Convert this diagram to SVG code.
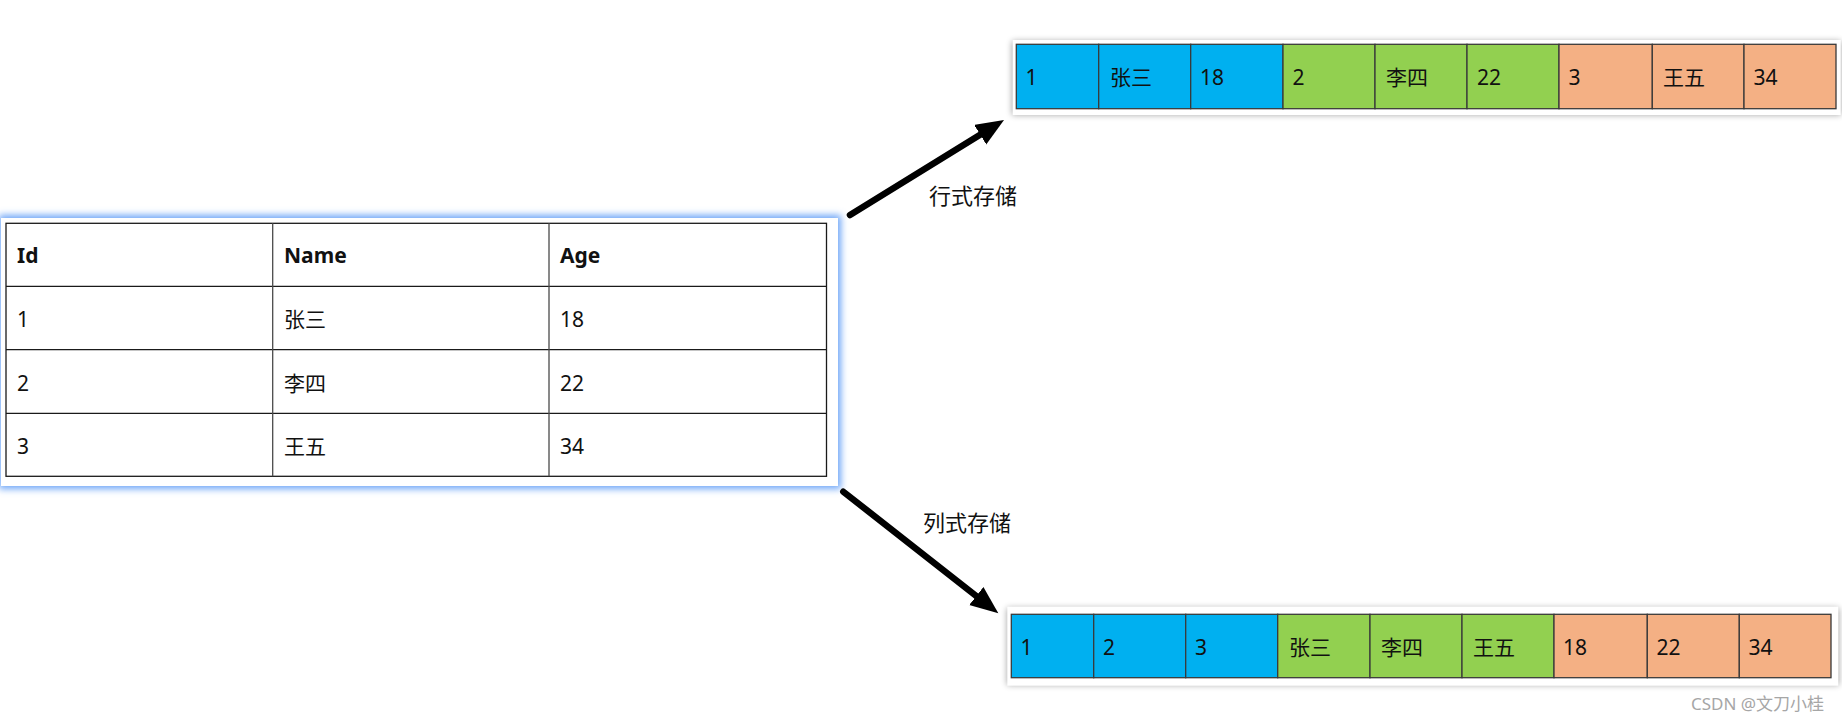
<svg xmlns="http://www.w3.org/2000/svg" width="1842" height="722" viewBox="0 0 1842 722">
<style>
text{font-family:"Noto Sans","Noto Sans CJK SC",sans-serif;font-size:21px;fill:#111}
.h{font-weight:bold}
.row{stroke:#1a1a1a;stroke-width:1.3}
.col{stroke:#4a4a4a;stroke-width:1.3}
.cell{stroke:#3a3a3a;stroke-width:1.3}
.b{fill:#00B0F0}.g{fill:#92D050}.o{fill:#F4B084}
.lbl{font-size:22px;fill:#111}
.wm{font-size:17px;fill:#a6a6a6}
.arrow{stroke:#000;stroke-width:6.5;stroke-linecap:round;fill:none}
</style>
<defs>
<filter id="glow" x="-5%" y="-10%" width="110%" height="120%">
<feGaussianBlur stdDeviation="3.5"/>
</filter>
<filter id="shadow" x="-5%" y="-30%" width="110%" height="160%">
<feGaussianBlur stdDeviation="3"/>
</filter>
<marker id="head" markerUnits="userSpaceOnUse" markerWidth="30" markerHeight="24" refX="8" refY="11.5" orient="auto">
<path d="M0,0 L28,11.5 L0,23 Z" fill="#000"/>
</marker>
</defs>
<rect width="1842" height="722" fill="#fff"/>

<g id="table">
<rect x="-1" y="215" width="842" height="274" fill="#6ea6f7" filter="url(#glow)"/>
<rect x="1" y="218" width="837" height="268" fill="#fff"/>
<rect x="6" y="223.3" width="820.5" height="253" fill="#fff" class="row"/>
<line class="row" x1="6" y1="286.3" x2="826.5" y2="286.3"/>
<line class="row" x1="6" y1="349.7" x2="826.5" y2="349.7"/>
<line class="row" x1="6" y1="413.3" x2="826.5" y2="413.3"/>
<line class="col" x1="272.7" y1="223.3" x2="272.7" y2="476.3"/>
<line class="col" x1="549" y1="223.3" x2="549" y2="476.3"/>
<text class="h" x="17" y="263">Id</text>
<text class="h" x="284" y="263">Name</text>
<text class="h" x="560" y="263">Age</text>
<text x="17" y="327">1</text>
<text x="284" y="327">张三</text>
<text x="560" y="327">18</text>
<text x="17" y="390.5">2</text>
<text x="284" y="390.5">李四</text>
<text x="560" y="390.5">22</text>
<text x="17" y="454">3</text>
<text x="284" y="454">王五</text>
<text x="560" y="454">34</text>
</g>

<g id="row-storage">
<rect x="1012" y="41" width="829" height="74" fill="#000" opacity="0.35" filter="url(#shadow)"/>
<rect x="1012.7" y="40" width="828" height="75" fill="#fff"/>
<rect class="b cell" x="1016.3" y="44.3" width="82.4" height="64.4"/>
<rect class="b cell" x="1098.7" y="44.3" width="92" height="64.4"/>
<rect class="b cell" x="1190.7" y="44.3" width="92.3" height="64.4"/>
<rect class="g cell" x="1283" y="44.3" width="92" height="64.4"/>
<rect class="g cell" x="1375" y="44.3" width="92" height="64.4"/>
<rect class="g cell" x="1467" y="44.3" width="92" height="64.4"/>
<rect class="o cell" x="1559" y="44.3" width="93.3" height="64.4"/>
<rect class="o cell" x="1652.3" y="44.3" width="91.7" height="64.4"/>
<rect class="o cell" x="1744" y="44.3" width="92" height="64.4"/>
<text x="1025.5" y="85">1</text>
<text x="1110" y="85">张三</text>
<text x="1200" y="85">18</text>
<text x="1292.5" y="85">2</text>
<text x="1386" y="85">李四</text>
<text x="1477" y="85">22</text>
<text x="1568.5" y="85">3</text>
<text x="1663" y="85">王五</text>
<text x="1753.5" y="85">34</text>
</g>

<g id="column-storage">
<rect x="1007" y="608" width="832" height="77" fill="#000" opacity="0.35" filter="url(#shadow)"/>
<rect x="1007.3" y="606.7" width="831" height="79" fill="#fff"/>
<rect class="b cell" x="1011.3" y="614.3" width="82.4" height="63.4"/>
<rect class="b cell" x="1093.7" y="614.3" width="92" height="63.4"/>
<rect class="b cell" x="1185.7" y="614.3" width="92" height="63.4"/>
<rect class="g cell" x="1277.7" y="614.3" width="92.3" height="63.4"/>
<rect class="g cell" x="1370" y="614.3" width="92" height="63.4"/>
<rect class="g cell" x="1462" y="614.3" width="92" height="63.4"/>
<rect class="o cell" x="1554" y="614.3" width="93.3" height="63.4"/>
<rect class="o cell" x="1647.3" y="614.3" width="92" height="63.4"/>
<rect class="o cell" x="1739.3" y="614.3" width="91.7" height="63.4"/>
<text x="1020.5" y="655">1</text>
<text x="1103" y="655">2</text>
<text x="1195" y="655">3</text>
<text x="1289" y="655">张三</text>
<text x="1381" y="655">李四</text>
<text x="1473" y="655">王五</text>
<text x="1563" y="655">18</text>
<text x="1656.5" y="655">22</text>
<text x="1748.5" y="655">34</text>
</g>

<g id="connectors">
<line class="arrow" x1="850" y1="215" x2="987" y2="130.5" marker-end="url(#head)"/>
<line class="arrow" x1="843.3" y1="491.7" x2="982.6" y2="601" marker-end="url(#head)"/>
<text class="lbl" x="929" y="204">行式存储</text>
<text class="lbl" x="923" y="531">列式存储</text>
</g>

<text class="wm" x="1691" y="710">CSDN @文刀小桂</text>
</svg>
